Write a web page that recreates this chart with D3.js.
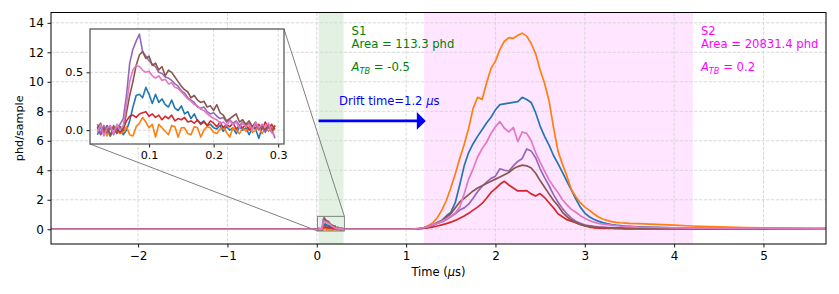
<!DOCTYPE html>
<html><head><meta charset="utf-8">
<script src="https://cdn.jsdelivr.net/npm/d3@7"></script>
<style>
html,body{margin:0;padding:0;background:#fff;}
text{font-family:"DejaVu Sans",sans-serif;}
</style></head>
<body><svg id="c" width="839" height="294"></svg>
<script>
// ---------------- DATA ----------------
const seriesNames = ["C0","C1","C3","C4","C5","C6"];
const seriesColors = ["#1f77b4","#ff7f0e","#d62728","#9467bd","#8c564b","#e377c2"];

// baseline (flat) sample times before/between the pulses
const baseBefore = [-2.975, 0.015];
const baseBetween = [0.30, 1.05];

// S1 window samples: t = 0.020 .. 0.295 step 0.005
const s1Start = 0.020, s1Step = 0.005;
const s1Blue   = [-0.04,0.03,-0.02,0.04,-0.05,0.02,-0.03,0.03,-0.04,0.0, 0.08,0.2,0.3,0.31,0.28,0.37,0.31,0.23,0.31,0.24, 0.27,0.22,0.2,0.26,0.19,0.17,0.21,0.14,0.16,0.1, 0.14,0.08,0.06,0.08,0.04,0.05,0.02,0.01,0.04,-0.01, 0.03,0.0,0.02,-0.03,0.03,0.0,0.02,-0.04,0.02,0.01, -0.07,0.02,0.0,0.03,-0.02,0.04];
const s1Orange = [0.02,-0.03,0.03,-0.05,0.02,-0.02,0.0,-0.03,-0.02,0.03, -0.04,-0.05,0.03,0.06,0.11,0.07,0.02,0.05,-0.06,0.05, 0.02,-0.01,-0.04,0.04,0.03,-0.06,0.02,0.02,-0.03,-0.04, 0.03,0.02,-0.06,0.0,0.03,0.02,-0.02,-0.03,0.01,0.03, -0.02,-0.06,0.02,0.0,-0.03,0.02,-0.01,0.03,-0.02,0.0, 0.03,-0.03,0.02,-0.01,0.03,0.0];
const s1Red    = [0.03,-0.04,0.02,-0.02,0.03,-0.03,0.02,-0.02,0.01,0.08, 0.12,0.13,0.11,0.14,0.15,0.16,0.12,0.14,0.11,0.13, 0.09,0.12,0.1,0.13,0.08,0.1,0.09,0.11,0.07,0.08, 0.06,0.09,0.05,0.07,0.04,0.08,0.06,0.03,0.07,0.02, 0.05,0.03,0.06,0.01,0.04,0.02,0.05,0.0,0.03,0.02, 0.05,0.01,0.07,0.02,0.05,0.01];
const s1Purple = [0.05,-0.03,0.04,-0.02,0.03,-0.04,0.02,0.05,0.1,0.3, 0.58,0.7,0.77,0.83,0.68,0.64,0.6,0.57,0.55,0.5, 0.49,0.46,0.45,0.43,0.4,0.38,0.34,0.32,0.28,0.26, 0.24,0.2,0.19,0.2,0.16,0.14,0.15,0.12,0.1,0.11, 0.07,0.09,0.06,0.08,0.04,0.07,0.03,0.06,0.02,0.05, 0.0,0.04,-0.02,0.03,0.01,-0.07];
const s1Brown  = [0.02,0.06,-0.04,0.03,-0.05,0.04,-0.02,0.03,0.0,0.15, 0.3,0.42,0.56,0.65,0.68,0.62,0.64,0.56,0.58,0.52, 0.55,0.47,0.52,0.5,0.46,0.42,0.38,0.35,0.33,0.28, 0.3,0.26,0.24,0.25,0.2,0.21,0.17,0.22,0.15,0.13, 0.08,0.1,0.12,0.14,0.07,0.09,0.05,0.08,0.03,0.07, 0.02,0.04,0.0,0.05,-0.01,0.04];
const s1Pink   = [-0.02,0.05,-0.05,0.02,0.04,-0.03,0.05,0.0,0.04,0.22, 0.42,0.52,0.56,0.55,0.52,0.5,0.51,0.47,0.45,0.47, 0.43,0.44,0.4,0.41,0.37,0.36,0.33,0.3,0.27,0.25, 0.22,0.21,0.18,0.17,0.14,0.12,0.1,0.09,0.06,0.07, 0.04,0.08,0.05,0.07,0.02,0.06,0.03,0.05,0.0,0.07, 0.02,0.05,0.03,0.06,-0.02,-0.05];

// S2 window samples: t = 1.10 .. 3.50 step 0.05
const s2Start = 1.10, s2Step = 0.05;
const s2Blue   = [0.02,0.04,0.08,0.15,0.25,0.45,0.6,0.9,1.15,1.8, 3.0,4.3,5.2,5.8,6.3,6.75,7.2,7.6,8.1,8.45, 8.5,8.55,8.6,8.65,8.95,8.8,8.6,7.9,7.0,6.3, 5.7,5.0,4.45,3.85,3.25,2.65,2.05,1.5,1.1,0.85, 0.68,0.55,0.45,0.38,0.32,0.28,0.25,0.22,0.2];
const s2Orange = [0.03,0.05,0.12,0.25,0.45,0.8,1.3,1.95,2.8,3.75, 4.8,5.75,6.85,8.2,8.95,8.8,9.9,10.9,11.4,12.2, 12.75,13.0,12.95,13.15,13.3,13.1,12.6,11.9,10.8,9.9, 8.7,6.9,5.3,4.4,3.6,2.7,2.2,1.8,1.5,1.3, 1.05,0.85,0.7,0.6,0.52,0.47,0.44,0.42,0.40];
const s2Red    = [0.02,0.04,0.07,0.1,0.15,0.22,0.3,0.38,0.48,0.6, 0.75,0.9,1.08,1.3,1.5,1.75,2.1,2.5,2.75,3.05, 3.25,3.0,2.8,2.6,2.6,2.62,2.4,2.25,2.42,2.15, 1.8,1.45,1.05,0.85,0.65,0.55,0.45,0.32,0.22,0.15, 0.1,0.08,0.06,0.05,0.05,0.04,0.04,0.03,0.03];
const s2Purple = [0.02,0.05,0.1,0.18,0.28,0.4,0.5,0.65,0.85,1.05, 1.3,1.45,1.7,2.1,2.55,2.9,3.2,3.45,3.6,4.1, 4.0,3.95,4.3,4.6,4.8,5.45,5.3,4.85,4.1,3.5, 2.95,2.35,1.85,1.4,1.05,0.75,0.55,0.4,0.3,0.24, 0.2,0.17,0.15,0.13,0.12,0.1,0.09,0.08,0.07];
const s2Brown  = [0.03,0.06,0.12,0.2,0.3,0.45,0.6,0.8,1.05,1.45, 1.85,2.1,2.35,2.6,2.8,2.95,3.1,3.25,3.4,3.55, 3.7,3.85,4.1,4.25,4.35,4.3,4.15,3.8,3.3,2.85, 2.4,1.95,1.6,1.15,0.85,0.62,0.45,0.33,0.25,0.2, 0.16,0.13,0.11,0.1,0.09,0.08,0.07,0.06,0.06];
const s2Pink   = [0.03,0.06,0.12,0.2,0.3,0.4,0.55,0.7,0.9,1.1, 1.5,2.4,3.4,4.1,4.9,5.45,5.9,6.5,6.95,7.3, 6.85,6.6,6.9,5.95,6.6,6.5,6.0,5.2,4.55,3.95, 3.35,2.9,2.5,2.0,1.65,1.35,1.15,0.92,0.75,0.6, 0.48,0.4,0.35,0.32,0.28,0.25,0.22,0.2,0.18];

// tail samples: t = 3.6 .. 5.8 step 0.2
const tailStart = 3.6, tailStep = 0.2;
const tailBlue   = [0.17,0.13,0.1,0.08,0.07,0.06,0.05,0.05,0.04,0.04,0.03,0.03];
const tailOrange = [0.38,0.33,0.28,0.22,0.18,0.15,0.12,0.1,0.09,0.08,0.07,0.07];
const tailRed    = [0.03,0.02,0.02,0.02,0.02,0.01,0.01,0.01,0.01,0.01,0.01,0.01];
const tailPurple = [0.06,0.05,0.04,0.04,0.03,0.03,0.03,0.02,0.02,0.02,0.02,0.02];
const tailBrown  = [0.05,0.04,0.04,0.03,0.03,0.03,0.02,0.02,0.02,0.02,0.02,0.02];
const tailPink   = [0.15,0.12,0.1,0.08,0.07,0.06,0.05,0.05,0.04,0.04,0.03,0.03];

const xTicks = [-2,-1,0,1,2,3,4,5];
const yTicks = [0,2,4,6,8,10,12,14];
const insetXTicks = [0.1,0.2,0.3];
const insetYTicks = [0.0,0.5];

const s1Span = [0.02, 0.30];
const s2Span = [1.20, 4.21];
const driftStart = 0.02, driftTime = 1.2;
const s1Label = {title:"S1", area:"Area = 113.3 phd", atb:" = -0.5"};
const s2Label = {title:"S2", area:"Area = 20831.4 phd", atb:" = 0.2"};

// ---------------- BUILD ----------------
const s1All = [s1Blue,s1Orange,s1Red,s1Purple,s1Brown,s1Pink];
const s2All = [s2Blue,s2Orange,s2Red,s2Purple,s2Brown,s2Pink];
const tailAll = [tailBlue,tailOrange,tailRed,tailPurple,tailBrown,tailPink];

function s1Points(k){ return s1All[k].map((v,i)=>[s1Start+s1Step*i, v]); }
function fullPoints(k){
  const pts = [];
  baseBefore.forEach(t=>pts.push([t,0]));
  s1Points(k).forEach(p=>pts.push(p));
  baseBetween.forEach(t=>pts.push([t,0]));
  s2All[k].forEach((v,i)=>pts.push([s2Start+s2Step*i, v]));
  tailAll[k].forEach((v,i)=>pts.push([tailStart+tailStep*i, v]));
  return pts;
}

const svg = d3.select("#c");
const M = {l:51, r:826, t:12.5, b:244};
const x = d3.scaleLinear().domain([-2.975, 5.70]).range([M.l, M.r]);
const y = d3.scaleLinear().domain([-1, 14.7]).range([M.b, M.t]);
const fmtInt = d3.format("d");

svg.append("defs").append("clipPath").attr("id","clipMain")
  .append("rect").attr("x",M.l).attr("y",M.t).attr("width",M.r-M.l).attr("height",M.b-M.t);

// spans
svg.append("rect").attr("x",x(s1Span[0])).attr("y",M.t).attr("width",x(s1Span[1])-x(s1Span[0])).attr("height",M.b-M.t)
  .attr("fill","green").attr("fill-opacity",0.11);
svg.append("rect").attr("x",x(s2Span[0])).attr("y",M.t).attr("width",x(s2Span[1])-x(s2Span[0])).attr("height",M.b-M.t)
  .attr("fill","magenta").attr("fill-opacity",0.1);

// grid
const gridStyle = g => g.attr("stroke","#d4d4d4").attr("stroke-width",0.9).attr("stroke-dasharray","3.2,1.6");
const gg = svg.append("g").call(gridStyle);
xTicks.forEach(t=>gg.append("line").attr("x1",x(t)).attr("x2",x(t)).attr("y1",M.t).attr("y2",M.b));
yTicks.forEach(t=>gg.append("line").attr("x1",M.l).attr("x2",M.r).attr("y1",y(t)).attr("y2",y(t)));

// lines
const lineMain = d3.line().x(d=>x(d[0])).y(d=>y(d[1]));
const lg = svg.append("g").attr("clip-path","url(#clipMain)");
seriesNames.forEach((n,k)=>{
  lg.append("path").datum(fullPoints(k)).attr("d",lineMain).attr("fill","none")
    .attr("stroke",seriesColors[k]).attr("stroke-width",1.7).attr("stroke-linejoin","round");
});

// arrow
const ay = 7.35, shaftHalf = 0.1, headHalf = 0.6, headLen = 0.1;
const tip = driftStart + driftTime;
const arrowPts = [
  [driftStart, ay-shaftHalf],[tip-headLen, ay-shaftHalf],[tip-headLen, ay-headHalf],[tip, ay],
  [tip-headLen, ay+headHalf],[tip-headLen, ay+shaftHalf],[driftStart, ay+shaftHalf]
].map(p=>[x(p[0]),y(p[1])]);
svg.append("polygon").attr("points",arrowPts.map(p=>p.join(",")).join(" ")).attr("fill","#0000ff");
const dt = svg.append("text").attr("x",x(0.25)).attr("y",y(8.4)).attr("fill","#0000ff").attr("font-size","11.6px");
dt.append("tspan").text("Drift time=1.2 ");
dt.append("tspan").attr("font-style","italic").text("μ");
dt.append("tspan").text("s");

// S1/S2 labels
function peakLabel(lbl, xv, color){
  svg.append("text").attr("x",x(xv)).attr("y",y(13.16)).attr("fill",color).attr("font-size","11.6px").text(lbl.title);
  svg.append("text").attr("x",x(xv)).attr("y",y(12.31)).attr("fill",color).attr("font-size","11.6px").text(lbl.area);
  const t = svg.append("text").attr("x",x(xv)).attr("y",y(10.72)).attr("fill",color).attr("font-size","11.6px");
  t.append("tspan").attr("font-style","italic").text("A");
  t.append("tspan").attr("font-style","italic").attr("font-size","8.2px").attr("dy",2.5).text("TB");
  t.append("tspan").attr("dy",-2.5).text(lbl.atb);
}
peakLabel(s1Label, 0.39, "#008000");
peakLabel(s2Label, 4.30, "#ff00ff");

// axes
const xAxis = svg.append("g").attr("transform",`translate(0,${M.b})`)
  .call(d3.axisBottom(x).tickValues(xTicks).tickFormat(d3.format("d")).tickSize(3.5).tickPadding(3.5));
const yAxis = svg.append("g").attr("transform",`translate(${M.l},0)`)
  .call(d3.axisLeft(y).tickValues(yTicks).tickFormat(fmtInt).tickSize(3.5).tickPadding(3.5));
[xAxis,yAxis].forEach(a=>{
  a.select(".domain").remove();
  a.selectAll("line").attr("stroke","#000").attr("stroke-width",0.9);
  a.selectAll("text").attr("font-family","DejaVu Sans").attr("font-size","12px").attr("fill","#000");
});
svg.append("rect").attr("x",M.l).attr("y",M.t).attr("width",M.r-M.l).attr("height",M.b-M.t)
  .attr("fill","none").attr("stroke","#000").attr("stroke-width",1);

// axis labels
const xl = svg.append("text").attr("x",(M.l+M.r)/2).attr("y",276).attr("text-anchor","middle").attr("font-size","11.5px");
xl.append("tspan").text("Time (");
xl.append("tspan").attr("font-style","italic").text("μ");
xl.append("tspan").text("s)");
svg.append("text").attr("transform",`translate(22.5,${(M.t+M.b)/2}) rotate(-90)`).attr("text-anchor","middle")
  .attr("font-size","11.2px").text("phd/sample");

// ---------------- INSET ----------------
const I = {l:90, r:284, t:29, b:144};
const ix = d3.scaleLinear().domain([0.0085, 0.309]).range([I.l, I.r]);
const iy = d3.scaleLinear().domain([-0.12, 0.875]).range([I.b, I.t]);

// zoom box on main + connectors
const [bx0,bx1] = ix.domain(), [by0,by1] = iy.domain();
svg.append("rect").attr("x",x(bx0)).attr("y",y(by1)).attr("width",x(bx1)-x(bx0)).attr("height",y(by0)-y(by1))
  .attr("fill","none").attr("stroke","#808080").attr("stroke-width",1);
svg.append("line").attr("x1",I.l).attr("y1",I.b).attr("x2",x(bx0)).attr("y2",y(by0)).attr("stroke","#808080").attr("stroke-width",1);
svg.append("line").attr("x1",I.r).attr("y1",I.t).attr("x2",x(bx1)).attr("y2",y(by1)).attr("stroke","#808080").attr("stroke-width",1);

svg.append("rect").attr("x",I.l).attr("y",I.t).attr("width",I.r-I.l).attr("height",I.b-I.t).attr("fill","#fff");
svg.select("defs").append("clipPath").attr("id","clipInset")
  .append("rect").attr("x",I.l).attr("y",I.t).attr("width",I.r-I.l).attr("height",I.b-I.t);
const ig = svg.append("g").call(gridStyle);
insetXTicks.forEach(t=>ig.append("line").attr("x1",ix(t)).attr("x2",ix(t)).attr("y1",I.t).attr("y2",I.b));
insetYTicks.forEach(t=>ig.append("line").attr("x1",I.l).attr("x2",I.r).attr("y1",iy(t)).attr("y2",iy(t)));
const lineInset = d3.line().x(d=>ix(d[0])).y(d=>iy(d[1]));
const ilg = svg.append("g").attr("clip-path","url(#clipInset)");
seriesNames.forEach((n,k)=>{
  ilg.append("path").datum(s1Points(k)).attr("d",lineInset).attr("fill","none")
    .attr("stroke",seriesColors[k]).attr("stroke-width",1.6).attr("stroke-linejoin","round");
});
const ixAxis = svg.append("g").attr("transform",`translate(0,${I.b})`)
  .call(d3.axisBottom(ix).tickValues(insetXTicks).tickFormat(d3.format(".1f")).tickSize(3.5).tickPadding(3.5));
const iyAxis = svg.append("g").attr("transform",`translate(${I.l},0)`)
  .call(d3.axisLeft(iy).tickValues(insetYTicks).tickFormat(d3.format(".1f")).tickSize(3.5).tickPadding(3.5));
[ixAxis,iyAxis].forEach(a=>{
  a.select(".domain").remove();
  a.selectAll("line").attr("stroke","#000").attr("stroke-width",0.9);
  a.selectAll("text").attr("font-family","DejaVu Sans").attr("font-size","11.2px").attr("fill","#000");
});
svg.append("rect").attr("x",I.l).attr("y",I.t).attr("width",I.r-I.l).attr("height",I.b-I.t)
  .attr("fill","none").attr("stroke","#4d4d4d").attr("stroke-width",1.2);
</script></body></html>
